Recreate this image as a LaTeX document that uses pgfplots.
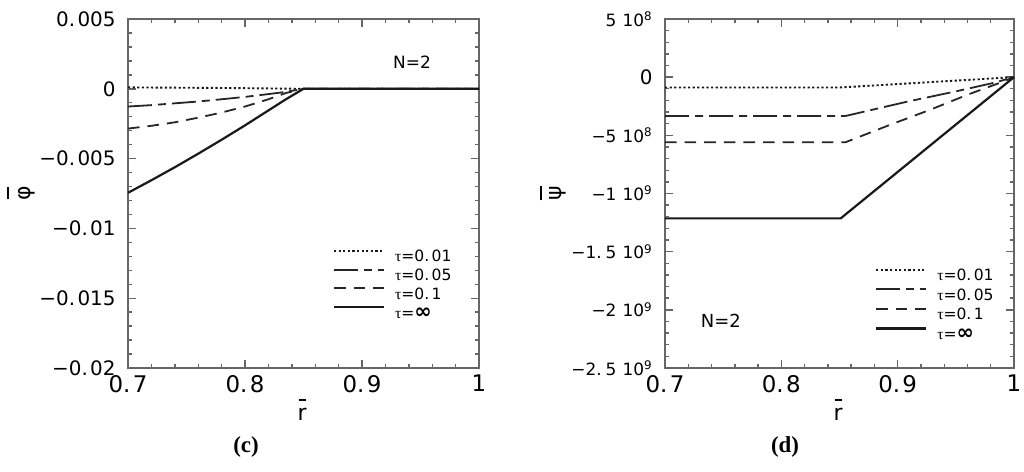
\documentclass[border=0pt]{standalone}
\usepackage{fontspec}
\setmainfont{DejaVu Sans}
\newfontfamily\serifgreek{Liberation Serif}
\usepackage{pgfplots}
\pgfplotsset{compat=1.18}

\newcommand\obar[3]{\vbox{\offinterlineskip\halign{\hfil##\hfil\cr\rule{#2}{0.9bp}\cr\noalign{\kern#3}#1\cr}}}
\newcommand\tauE{{\serifgreek τ}}
\newcommand\infE{{\fontsize{10.5}{10.5}\selectfont\bfseries ∞}}
\newcommand\dt{.\hspace{1.2bp}}

\pgfplotsset{
  myax/.style={
    scale only axis,
    axis line style={draw=black!60, line width=0.9bp},
    xmin=0.7, xmax=1,
    xtick={0.7,0.8,0.9,1},
    xticklabels={0\dt7,0\dt8,0\dt9,1},
    minor x tick num=4,
    minor y tick num=4,
    tick align=inside,
    major tick length=4bp,
    minor tick length=2bp,
    every tick/.style={draw=black!60, line width=0.7bp},
    xticklabel style={font=\fontsize{11.5}{12}\selectfont, inner sep=0pt, yshift=-3.3bp},
    yticklabel style={inner sep=0pt, xshift=-6bp, anchor=east},
    scaled y ticks=false, scaled x ticks=false,
    xlabel={\obar{r}{3.5bp}{3.5bp}},
    xlabel style={at={(axis description cs:0.496,-0.12)}, anchor=center, font=\fontsize{11}{12}\selectfont},
    legend cell align=left,
    legend image code/.code={\draw[##1] (0bp,2.75bp) -- (25bp,2.75bp);},
    clip=false,
  },
  s001/.style={black!90, line width=0.95bp, dash pattern=on 1.1bp off 1.2bp},
  s005/.style={black!85, line width=0.9bp, dash pattern=on 12bp off 3bp on 4bp off 3bp},
  s01/.style={black!85, line width=0.9bp, dash pattern=on 5.8bp off 4bp},
  sinf/.style={black!90, line width=1.1bp},
}

\begin{document}
\begin{tikzpicture}
\path[use as bounding box] (0,0) rectangle (512bp,236bp);

% ---------------- (c) ----------------
\begin{axis}[myax,
  at={(64bp,52bp)}, anchor=south west,
  width=175.5bp, height=174.5bp,
  ymin=-0.02, ymax=0.005,
  ytick={-0.02,-0.015,-0.01,-0.005,0,0.005},
  yticklabels={−0\dt02,−0\dt015,−0\dt01,−0\dt005,0,0\dt005},
  yticklabel style={font=\fontsize{10}{11}\selectfont},
  ylabel={\obar{φ}{6bp}{5bp}},
  ylabel style={at={(axis description cs:-0.305,0.5)}, anchor=center, font=\fontsize{11}{12}\selectfont},
  legend style={draw=none, fill=none, inner sep=0pt, outer sep=0pt,
    at={(axis description cs:0.584,0.338)}, anchor=north west,
    row sep=3.4bp,
    nodes={inner sep=0pt, text height=5.5bp, text depth=0bp, font=\fontsize{7.8}{8}\selectfont},
    /tikz/every odd column/.append style={column sep=5bp}},
]
\addplot[s001] coordinates {(0.7,0.0001) (0.78,0.00006) (0.85,0) (1,0)};
\addlegendentry{\tauE=0\dt01}
\addplot[s005] coordinates {(0.70,-0.00127) (0.72,-0.00117) (0.74,-0.00104) (0.76,-0.00091) (0.78,-0.00075) (0.80,-0.00058) (0.82,-0.00038) (0.835,-0.00022) (0.85,0) (1,0)};
\addlegendentry{\tauE=0\dt05}
\addplot[s01] coordinates {(0.70,-0.00285) (0.72,-0.00265) (0.74,-0.0024) (0.76,-0.00207) (0.78,-0.0017) (0.80,-0.00127) (0.82,-0.00075) (0.835,-0.0003) (0.85,0) (1,0)};
\addlegendentry{\tauE=0\dt1}
\addplot[sinf] coordinates {(0.70,-0.00745) (0.72,-0.00655) (0.74,-0.00562) (0.76,-0.00465) (0.78,-0.00365) (0.80,-0.00262) (0.82,-0.00155) (0.835,-0.00075) (0.85,0) (1,0)};
\addlegendentry{\tauE=\infE}
\node[font=\fontsize{8.5}{9}\selectfont] at (axis description cs:0.809,0.877) {N=2};
\end{axis}

% ---------------- (d) ----------------
\begin{axis}[myax,
  at={(332.5bp,52bp)}, anchor=south west,
  width=174.5bp, height=174.5bp,
  ymin=-2.5e9, ymax=5e8,
  ytick={-2.5e9,-2e9,-1.5e9,-1e9,-5e8,0,5e8},
  yticklabels={
    {\fontsize{8.5}{9}\selectfont −2.\hspace{2bp}5\hspace{3bp}10\textsuperscript{9}},
    {\fontsize{8.5}{9}\selectfont −2\hspace{3bp}10\textsuperscript{9}},
    {\fontsize{8.5}{9}\selectfont −1.\hspace{2bp}5\hspace{3bp}10\textsuperscript{9}},
    {\fontsize{8.5}{9}\selectfont −1\hspace{3bp}10\textsuperscript{9}},
    {\fontsize{8.5}{9}\selectfont −5\hspace{3bp}10\textsuperscript{8}},
    {\fontsize{10}{11}\selectfont 0},
    {\fontsize{8.5}{9}\selectfont 5\hspace{3bp}10\textsuperscript{8}}},
  ylabel={\obar{ψ}{7bp}{3.5bp}},
  ylabel style={at={(axis description cs:-0.321,0.5)}, anchor=center, font=\fontsize{11}{12}\selectfont},
  legend style={draw=none, fill=none, inner sep=0pt, outer sep=0pt,
    at={(axis description cs:0.602,0.284)}, anchor=north west,
    row sep=3.8bp,
    nodes={inner sep=0pt, text height=5.5bp, text depth=0bp, font=\fontsize{7.8}{8}\selectfont},
    /tikz/every odd column/.append style={column sep=5bp}},
]
\addplot[s001] coordinates {(0.7,-8.9e7) (0.85,-8.9e7) (1,0)};
\addlegendentry{\tauE=0\dt01}
\addplot[s005] coordinates {(0.7,-3.34e8) (0.855,-3.34e8) (0.908,-2.11e8) (0.951,-1.2e8) (0.982,-0.5e8) (1,0)};
\addlegendentry{\tauE=0\dt05}
\addplot[s01] coordinates {(0.7,-5.6e8) (0.855,-5.6e8) (0.8936,-4.09e8) (0.928,-2.8e8) (0.96,-1.51e8) (0.9856,-0.57e8) (1,0)};
\addlegendentry{\tauE=0\dt1}
\addplot[sinf] coordinates {(0.7,-1.214e9) (0.851,-1.214e9) (1,0)};
\addlegendentry{\tauE=\infE}
\node[font=\fontsize{9}{10}\selectfont] at (axis description cs:0.160,0.135) {N=2};
\end{axis}

\node[font=\fontsize{11.5}{12}\selectfont\serifgreek\bfseries] at (123bp,12.5bp) {(c)};
\node[font=\fontsize{11.5}{12}\selectfont\serifgreek\bfseries] at (392.5bp,12.5bp) {(d)};
\end{tikzpicture}
\end{document}
